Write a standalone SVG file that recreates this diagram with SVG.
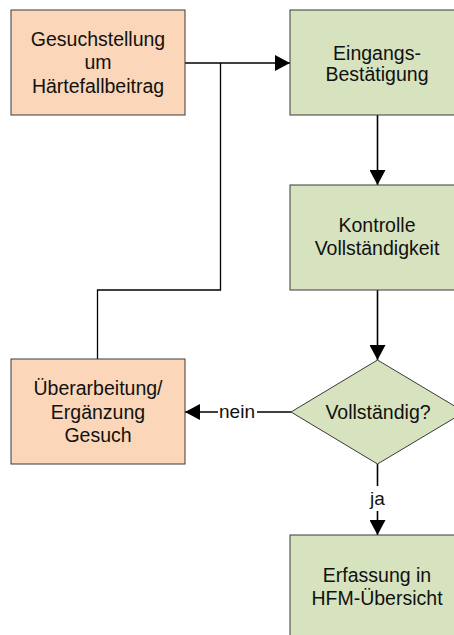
<svg xmlns="http://www.w3.org/2000/svg" width="454" height="635" viewBox="0 0 454 635">
<style>
.o{fill:#FBD6B8;stroke:#3a3a3a;stroke-width:1}
.g{fill:#D7E3BE;stroke:#3a3a3a;stroke-width:1}
text{font-family:"Liberation Sans",Arial,sans-serif;font-size:19.5px;fill:#111;text-anchor:middle}
.c{fill:none;stroke:#000;stroke-width:1.6}
.lbl{font-size:19px}
</style>
<defs>
<marker id="ah" markerUnits="userSpaceOnUse" markerWidth="16" markerHeight="16" viewBox="0 0 15 16" refX="15" refY="8" orient="auto">
<path d="M0,0 L15,8 L0,16 Z" fill="#000"/>
</marker>
</defs>
<g id="connectors">
<path class="c" d="M185,63 L290,63" marker-end="url(#ah)"/>
<path class="c" d="M220.5,63 L220.5,290 L97.5,290 L97.5,359" style="stroke-width:1.3"/>
<path class="c" d="M377.5,115 L377.5,185" marker-end="url(#ah)"/>
<path class="c" d="M377.5,290 L377.5,360" marker-end="url(#ah)"/>
<path class="c" d="M291,412 L257,412 M218,412 L185,412" marker-end="url(#ah)"/>
<path class="c" d="M377.5,464 L377.5,486 M377.5,511 L377.5,535" marker-end="url(#ah)"/>
<text class="lbl" x="237" y="418">nein</text>
<text class="lbl" x="377.5" y="505">ja</text>
</g>
<g id="n1">
<rect class="o" x="11" y="10" width="174" height="105"/>
<text x="98" y="45.5">Gesuchstellung</text>
<text x="98" y="69">um</text>
<text x="98" y="92.5">Härtefallbeitrag</text>
</g>
<g id="n2">
<rect class="g" x="290" y="10" width="174" height="105"/>
<text x="377" y="60">Eingangs-</text>
<text x="377" y="81">Bestätigung</text>
</g>
<g id="n3">
<rect class="g" x="290" y="185" width="174" height="105"/>
<text x="377" y="231.5">Kontrolle</text>
<text x="377" y="254.5">Vollständigkeit</text>
</g>
<g id="n4">
<polygon class="g" points="377.5,360 464.5,412 377.5,464 291,412"/>
<text x="378" y="418.5">Vollständig?</text>
</g>
<g id="n5">
<rect class="o" x="11" y="359" width="174" height="105"/>
<text x="98" y="395">Überarbeitung/</text>
<text x="98" y="419">Ergänzung</text>
<text x="98" y="442">Gesuch</text>
</g>
<g id="n6">
<rect class="g" x="290" y="535" width="174" height="105"/>
<text x="377" y="582">Erfassung in</text>
<text x="377" y="605">HFM-Übersicht</text>
</g>
</svg>
